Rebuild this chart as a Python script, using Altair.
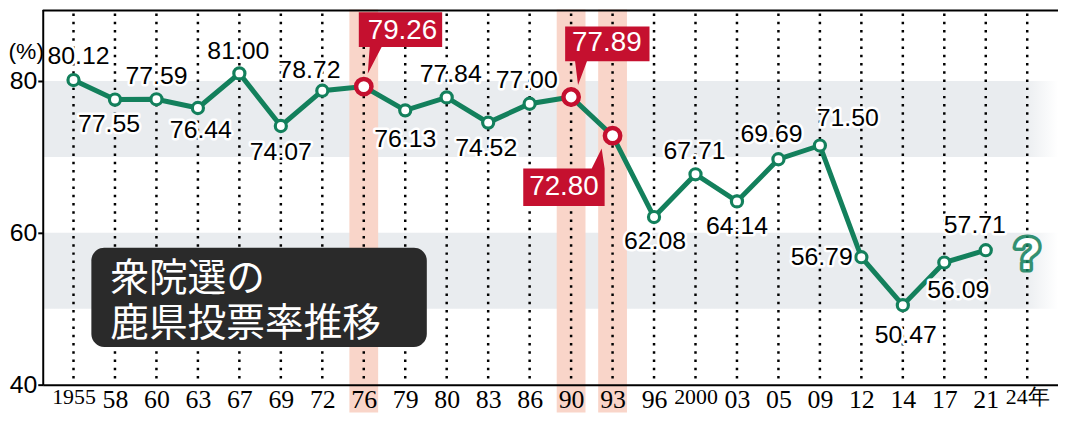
import altair as alt
import pandas as pd

# ---------------- data ----------------
years = ["1955", "58", "60", "63", "67", "69", "72", "76", "79", "80", "83", "86",
         "90", "93", "96", "2000", "03", "05", "09", "12", "14", "17", "21", "24年"]
turnout = [80.12, 77.55, 77.59, 76.44, 81.00, 74.07, 78.72, 79.26, 76.13, 77.84,
           74.52, 77.00, 77.89, 72.80, 62.08, 67.71, 64.14, 69.69, 71.50, 56.79,
           50.47, 56.09, 57.71]
highlight_years = ["76", "90", "93"]
band_low = [50, 70]
band_high = [60, 80]
y_ticks = [40, 60, 80]
title_lines = ["衆院選の", "鹿県投票率推移"]
unknown_year = "24年"
unknown_level = 57.0

# ---------------- styling ----------------
W, H = 1023, 378
GREEN = "#13805c"
RED = "#c5102f"
BAND = "#e9ecef"
SALMON = "#f9d5c9"
LABEL_FONT = "Liberation Sans"
AXIS_FONT = "Liberation Serif"

# label offsets in pixels (dx, dy)
label_offsets = {
    "1955": (5, -24), "58": (-6, 25), "60": (0, -23), "63": (3, 22), "67": (-1, -23),
    "69": (0, 26), "72": (-13, -21), "79": (0, 29), "80": (4, -24), "83": (-2, 26),
    "86": (-3, -24), "96": (1, 24), "2000": (-1, -23), "03": (0, 25), "05": (-7, -25),
    "09": (28, -28), "12": (-40, 0), "14": (3, 30), "17": (14, 28), "21": (-11, -25),
}
# callout shapes (unit = sqrt(size)/2 = 20 px) and text offsets
callouts = {
    "76": ("M-0.25,-3.75H3.95V-2H0.9L0.2,-0.65L0.3,-2H-0.25Z", 39, -56),
    "90": ("M-0.3,-3.55H3.95V-1.8H0.8L0.35,-0.6L0.2,-1.8H-0.3Z", 36, -54),
    "93": ("M-4.5,1.65H-1.05L-0.55,0.65L-0.4,1.65V3.55H-4.5Z", -49, 52),
}

df = pd.DataFrame({"year": years[:len(turnout)], "turnout": turnout})
all_df = pd.DataFrame({"year": years})
band_df = pd.DataFrame({"lo": band_low, "hi": band_high})
hl_df = pd.DataFrame({"year": highlight_years})
one = pd.DataFrame({"k": [0]})

xscale = alt.Scale(type="point", domain=years, padding=0.742)
yscale = alt.Scale(domain=[40, 89.41], nice=False, zero=False)

xaxis = alt.Axis(
    title=None, labelAngle=0, ticks=False, grid=False, domainColor="black",
    domainWidth=2, labelFont=AXIS_FONT, labelColor="black", labelPadding=2,
    labelFontSize={"condition": {"test": "length(datum.label) != 2", "value": 22}, "value": 26},
    labelBaseline="top", zindex=1, labelOverlap=False,
)
yaxis = alt.Axis(
    title="(%)", titleAngle=0, titleAlign="left", titleBaseline="middle", titleX=-35,
    titleY=42, titleFont="Liberation Sans", titleFontSize=23, titleFontWeight="normal",
    titleColor="black", values=y_ticks, grid=False, tickSize=5, tickWidth=2,
    tickColor="black", domainColor="black", domainWidth=2, labelFont="Liberation Sans",
    labelFontSize=25, labelColor="black", labelPadding=1, zindex=1,
)

X = alt.X("year:N", scale=xscale, axis=xaxis)

grad = alt.Gradient(
    gradient="linear", x1=0, x2=1, y1=0, y2=0,
    stops=[alt.GradientStop(color=BAND, offset=0), alt.GradientStop(color=BAND, offset=0.965),
           alt.GradientStop(color="white", offset=1)],
)

bands = alt.Chart(band_df).mark_rect(color=grad).encode(
    y=alt.Y("lo:Q", scale=yscale, axis=yaxis), y2="hi:Q",
    x=alt.value(0), x2=alt.value(W),
)

hl_cols = alt.Chart(hl_df).mark_rule(color=SALMON, strokeWidth=29).encode(
    x=X, y=alt.value(0), y2=alt.value(H + 28)
)

dots = alt.Chart(all_df).mark_rule(color="black", strokeWidth=2.5, strokeDash=[2.5, 5.8]).encode(
    x=X, y=alt.value(4), y2=alt.value(H - 2)
)

title_box = alt.Chart(one).mark_rect(color="#2a2a2a", cornerRadius=13).encode(
    x=alt.value(49), x2=alt.value(387), y=alt.value(240), y2=alt.value(340)
)
title_t1 = alt.Chart(one).mark_text(align="left", baseline="middle", fontSize=39,
                                    font="Noto Sans CJK JP", color="white").encode(
    x=alt.value(68), y=alt.value(272), text=alt.value(title_lines[0]))
title_t2 = alt.Chart(one).mark_text(align="left", baseline="middle", fontSize=39,
                                    font="Noto Sans CJK JP", color="white").encode(
    x=alt.value(68), y=alt.value(317), text=alt.value(title_lines[1]))

Y = alt.Y("turnout:Q", scale=yscale, axis=yaxis)

line = alt.Chart(df).mark_line(color=GREEN, strokeWidth=5).encode(x=X, y=Y)

pts = alt.Chart(df).transform_filter(
    "indexof(" + str(highlight_years) + ", datum.year) < 0"
).mark_point(shape="circle", filled=True, fill="white", stroke=GREEN, strokeWidth=3.2,
             size=125, opacity=1).encode(x=X, y=Y)

hpts = alt.Chart(df).transform_filter(
    alt.FieldOneOfPredicate(field="year", oneOf=highlight_years)
).mark_point(shape="circle", filled=True, fill="white", stroke=RED, strokeWidth=4.5,
             size=240, opacity=1).encode(x=X, y=Y)

layers = [bands, hl_cols, dots, title_box, title_t1, title_t2, line, pts, hpts]

# value labels with white halo
for yr, (dx, dy) in label_offsets.items():
    src = alt.Chart(df).transform_filter(alt.datum.year == yr).transform_calculate(
        lab="format(datum.turnout, '.2f')")
    halo = src.mark_text(dx=dx, dy=dy, font=LABEL_FONT, fontSize=25, baseline="middle",
                         align="center", fill="white", stroke="white", strokeWidth=5,
                         strokeJoin="round").encode(x=X, y=Y, text="lab:N")
    txt = src.mark_text(dx=dx, dy=dy, font=LABEL_FONT, fontSize=25, baseline="middle",
                        align="center", color="black").encode(x=X, y=Y, text="lab:N")
    layers += [halo, txt]

# red callouts
for yr, (path, tdx, tdy) in callouts.items():
    src = alt.Chart(df).transform_filter(alt.datum.year == yr).transform_calculate(
        lab="format(datum.turnout, '.2f')")
    box = src.mark_point(shape=path, filled=True, color=RED, size=1600, opacity=1).encode(x=X, y=Y)
    txt = src.mark_text(dx=tdx, dy=tdy, font="Liberation Sans", fontSize=28, baseline="middle",
                        align="center", color="white").encode(x=X, y=Y, text="lab:N")
    layers += [box, txt]

# unknown result for the coming election
q_df = pd.DataFrame({"year": [unknown_year], "turnout": [unknown_level], "t": ["?"]})
q_glow = alt.Chart(q_df).mark_text(font="Liberation Sans", fontWeight="bold", fontSize=44,
                                   baseline="middle", fill=GREEN, stroke=GREEN, strokeWidth=7,
                                   strokeJoin="round", opacity=0.85).encode(x=X, y=Y, text="t:N")
q_txt = alt.Chart(q_df).mark_text(font="Liberation Sans", fontWeight="bold", fontSize=44,
                                  baseline="middle", color="white").encode(x=X, y=Y, text="t:N")
top_line = alt.Chart(one).mark_rule(color="black", strokeWidth=2).encode(
    x=alt.value(0), x2=alt.value(W), y=alt.value(1))
layers += [q_glow, q_txt, top_line]

chart = alt.layer(*layers).properties(
    width=W, height=H, autosize=alt.AutoSizeParams(type="none"),
    padding={"left": 35, "top": 0, "right": 0, "bottom": 28},
    background="white",
).configure_view(stroke=None)

chart.save("out.html", embed_options={"renderer": "svg", "actions": False})
